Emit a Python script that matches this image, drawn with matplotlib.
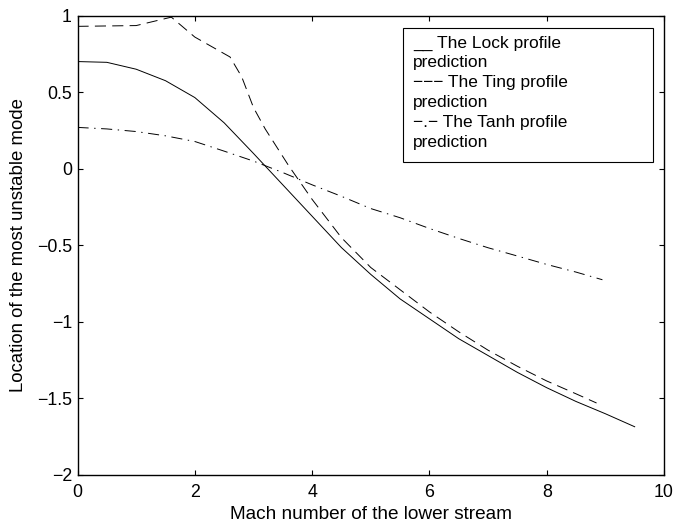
import matplotlib
matplotlib.use("Agg")
import matplotlib.pyplot as plt
from matplotlib.patches import Rectangle

plt.rcParams.update(
    {
        "font.family": ["Liberation Sans", "DejaVu Sans"],
        "font.size": 12.8,
        "axes.linewidth": 1.0,
        "lines.scale_dashes": False,
    }
)

# Lock profile (solid)
lock_x = [0, 0.5, 1, 1.5, 2, 2.5, 3, 3.5, 4, 4.5, 5, 5.5, 6, 6.5, 7, 7.5, 8, 8.5, 9, 9.5]
lock_y = [0.70, 0.695, 0.65, 0.575, 0.465, 0.30, 0.10, -0.105, -0.31, -0.515,
          -0.69, -0.85, -0.98, -1.11, -1.22, -1.33, -1.43, -1.52, -1.60, -1.685]

# Ting profile (dashed)
ting_x = [0, 1.0, 1.6, 2.0, 2.6, 2.8, 3.0, 3.2, 3.6, 4.0, 4.5, 5, 5.5, 6, 6.5, 7, 7.5, 8, 8.5, 8.85]
ting_y = [0.93, 0.935, 0.99, 0.86, 0.73, 0.60, 0.40, 0.26, 0.02, -0.20, -0.45,
          -0.645, -0.79, -0.935, -1.065, -1.185, -1.29, -1.386, -1.47, -1.53]

# Tanh profile (dash-dot)
tanh_x = [0, 0.5, 1, 1.5, 2, 2.5, 3, 3.5, 4, 4.5, 5, 5.5, 6, 6.5, 7, 7.5, 8, 8.5, 8.95]
tanh_y = [0.27, 0.26, 0.243, 0.215, 0.178, 0.115, 0.05, -0.025, -0.105, -0.18,
          -0.26, -0.32, -0.39, -0.455, -0.516, -0.57, -0.625, -0.675, -0.725]

legend_lines = [
    "__ The Lock profile",
    "prediction",
    "\u2212\u2212\u2212 The Ting profile",
    "prediction",
    "\u2212.\u2212 The Tanh profile",
    "prediction",
]

fig = plt.figure(figsize=(6.77, 5.26), dpi=100)
ax = fig.add_axes([0.1145, 0.097, 0.8663, 0.8733])

ax.plot(lock_x, lock_y, color="black", lw=0.7, linestyle="-")
ax.plot(ting_x, ting_y, color="black", lw=0.7, linestyle=(0, (8, 4.5)))
ax.plot(tanh_x, tanh_y, color="black", lw=0.7, linestyle=(0, (8, 4, 1, 4)))

ax.set_xlim(0, 10)
ax.set_ylim(-2, 1)
ax.set_xticks([0, 2, 4, 6, 8, 10])
ax.set_yticks([-2, -1.5, -1, -0.5, 0, 0.5, 1])
ax.set_yticklabels(["\u22122", "\u22121.5", "\u22121", "\u22120.5", "0", "0.5", "1"])
ax.tick_params(direction="in", top=True, right=True, length=3.8, width=0.8)
ax.tick_params(axis="x", pad=6.5)
ax.tick_params(axis="y", pad=4)
ax.set_xlabel("Mach number of the lower stream", fontsize=13.7, labelpad=3.5)
ax.set_ylabel("Location of the most unstable mode", fontsize=13.4, labelpad=7)

# text-style legend box, as in the original figure
ax.add_patch(Rectangle((0.5555, 0.6813), 0.4263, 0.2911, transform=ax.transAxes,
                       facecolor="white", edgecolor="black", lw=0.8, zorder=5))
ax.text(0.572, 0.9567, "\n".join(legend_lines), transform=ax.transAxes,
        va="top", ha="left", fontsize=12.5, linespacing=1.40, zorder=6)

fig.savefig("out.png", dpi=100)
